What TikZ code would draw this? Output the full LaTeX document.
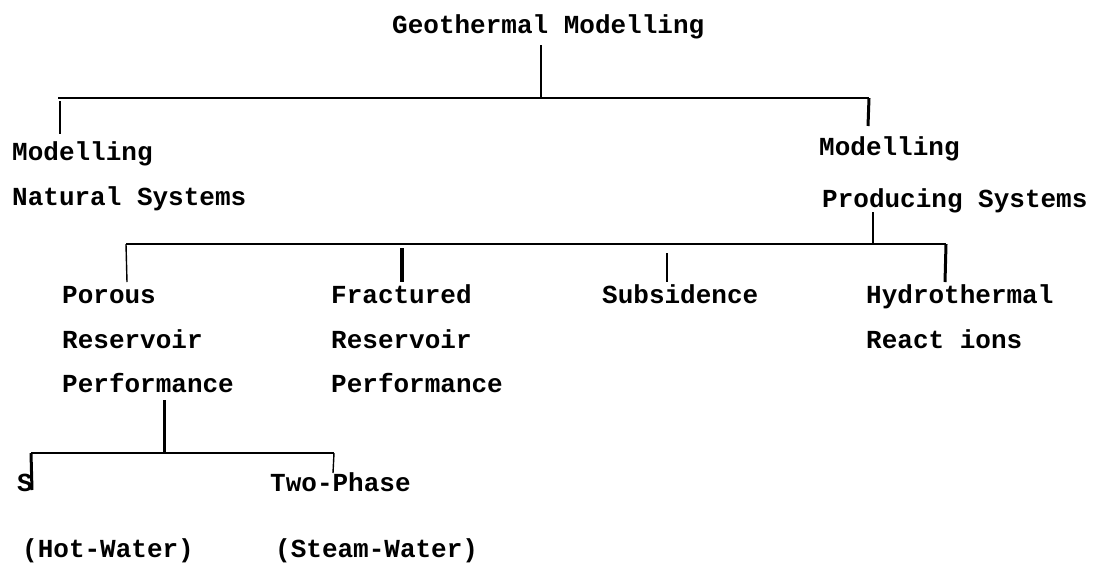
\documentclass[tikz,border=0pt]{standalone}
\usepackage{fontspec}
\setmainfont{Liberation Mono}
\begin{document}
\begin{tikzpicture}[x=1pt,y=-1pt,
  lbl/.style={anchor=base west,inner sep=0pt,font=\fontsize{26}{26}\selectfont\bfseries},
  bus/.style={line width=1.6pt},
  drop/.style={line width=1.4pt},
  heavydrop/.style={line width=3pt}]
\useasboundingbox (0,0) rectangle (1094,566);

% ---- labels ----
\node[lbl] (geo)  at (392,33)  {Geothermal Modelling};
\node[lbl] (natA) at (12,160)  {Modelling};
\node[lbl] (natB) at (12,205)  {Natural Systems};
\node[lbl] (proA) at (819,155) {Modelling};
\node[lbl] (proB) at (822,207) {Producing Systems};
\node[lbl] (porA) at (62,303)  {Porous};
\node[lbl] (porB) at (62,348)  {Reservoir};
\node[lbl] (porC) at (62,392)  {Performance};
\node[lbl] (fraA) at (331,303) {Fractured};
\node[lbl] (fraB) at (331,348) {Reservoir};
\node[lbl] (fraC) at (331,392) {Performance};
\node[lbl] (sub)  at (602,303) {Subsidence};
\node[lbl] (hydA) at (866,303) {Hydrothermal};
\node[lbl] (hydB) at (866,348) {React ions};
\node[lbl] (sgl)  at (17,491)  {S};
\node[lbl] (twoA) at (270,491) {Two-Phase};
\node[lbl] (sglB) at (22,557)  {(Hot-Water)};
\node[lbl] (twoB) at (275,557) {(Steam-Water)};

% ---- junction points ----
\coordinate (geoTop) at (541,45);
\coordinate (b1m) at (541,98);
\coordinate (b1l) at (58,98);
\coordinate (b1r) at (869,98);
\coordinate (natT) at (60,134);
\coordinate (proT) at (868,126);

\coordinate (proBot) at (873,212);
\coordinate (b2m) at (873,244);
\coordinate (b2l) at (126,244);
\coordinate (b2r) at (946,244);
\coordinate (porT) at (127,282);
\coordinate (fraS) at (402,248);
\coordinate (fraT) at (402,282);
\coordinate (subS) at (667,253);
\coordinate (subT) at (667,282);
\coordinate (hydT) at (945,282);

\coordinate (porBot) at (164,400);
\coordinate (b3m) at (164,453);
\coordinate (b3l) at (31,453);
\coordinate (b3r) at (334,453);
\coordinate (sglT) at (32,490);
\coordinate (twoT) at (333,473);

% ---- top level ----
\draw[bus] (geoTop) -- (b1m);
\draw[bus] (b1l) -- (b1r);
\draw[drop] (60,101) -- (natT);
\draw[heavydrop] (b1r) -- (proT);

% ---- producing systems ----
\draw[drop] (proBot) -- (b2m);
\draw[bus] (b2l) -- (b2r);
\draw[drop] (b2l) -- (porT);
\draw[line width=4pt] (fraS) -- (fraT);
\draw[drop] (subS) -- (subT);
\draw[heavydrop] (b2r) -- (hydT);

% ---- porous reservoir performance ----
\draw[heavydrop] (porBot) -- (b3m);
\draw[bus] (b3l) -- (b3r);
\draw[heavydrop] (b3l) -- (sglT);
\draw[drop] (b3r) -- (twoT);
\end{tikzpicture}
\end{document}
